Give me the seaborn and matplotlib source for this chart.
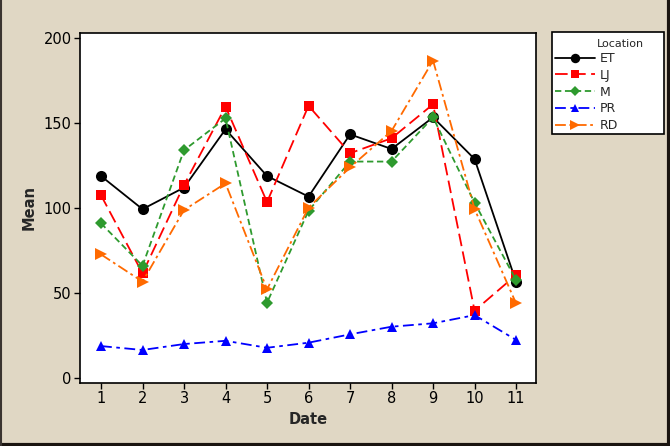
import pandas as pd
import numpy as np
import matplotlib.pyplot as plt
import seaborn as sns

sns.set_style('white')
plt.rcParams['font.family'] = ['DejaVu Sans']

dates = [1, 2, 3, 4, 5, 6, 7, 8, 9, 10, 11]
locations = ['ET', 'LJ', 'M', 'PR', 'RD']

et = [118.8, 99.3, 112.0, 146.3, 118.8, 106.7, 143.3, 134.7, 153.3, 128.8, 56.6]
lj = [107.5, 61.6, 113.5, 159.6, 103.5, 160.1, 132.2, 141.0, 161.0, 39.6, 60.6]
m = [91.0, 66.0, 134.0, 152.7, 44.3, 98.4, 127.3, 127.3, 153.3, 103.1, 57.6]
pr = [18.8, 16.5, 20.0, 21.9, 17.8, 20.8, 25.7, 30.2, 32.2, 37.0, 22.4]
rd = [72.7, 56.7, 98.8, 114.5, 52.2, 100.2, 123.9, 145.3, 186.7, 99.4, 43.9]

df = pd.DataFrame({'Date': dates * 5,
                   'Location': np.repeat(locations, len(dates)),
                   'Mean': et + lj + m + pr + rd})

palette = {'ET': 'black', 'LJ': '#FF0000', 'M': '#2E9A2E', 'PR': '#0000FF', 'RD': '#FF6A00'}
markers = {'ET': 'o', 'LJ': 's', 'M': 'D', 'PR': '^', 'RD': '>'}
dashes = {'ET': '', 'LJ': (7, 3), 'M': (3.5, 2), 'PR': (6, 2.5, 2, 2.5), 'RD': (6, 2, 1.5, 2)}
msizes = {'ET': 8, 'LJ': 7, 'M': 6.5, 'PR': 7.5, 'RD': 8}

fig = plt.figure(figsize=(6.7, 4.46), dpi=100)
fig.patch.set_facecolor('#E0D7C4')
ax = fig.add_axes([0.1194, 0.1413, 0.6806, 0.7847])

for loc in locations:
    sub = df[df['Location'] == loc]
    sns.lineplot(data=sub, x='Date', y='Mean', ax=ax, color=palette[loc],
                 marker=markers[loc], markersize=msizes[loc], markeredgewidth=0,
                 linewidth=1.3, label=loc)

for line, loc in zip(ax.get_lines(), locations):
    if dashes[loc]:
        line.set_dashes(dashes[loc])
    else:
        line.set_linestyle('-')

ax.set_xlim(0.494, 11.48)
ax.set_ylim(-2.9, 202.9)
ax.set_xticks(dates)
ax.set_yticks([0, 50, 100, 150, 200])
ax.tick_params(axis='both', direction='out', length=4, width=1, colors='black', labelsize=10.5, pad=2,
               bottom=True, left=True)
for s in ax.spines.values():
    s.set_color('black')
    s.set_linewidth(1.2)
ax.set_xlabel('Date', fontweight='bold', fontsize=10.5, labelpad=4)
ax.set_ylabel('Mean', fontweight='bold', fontsize=10.5, labelpad=5)

# legend: box drawn separately so it keeps the wide frame of the original
handles, labels = ax.get_legend_handles_labels()
for h, loc in zip(handles, labels):
    if dashes[loc]:
        h.set_dashes(dashes[loc])
    else:
        h.set_linestyle('-')
leg = ax.legend(handles, labels, loc='upper left',
                bbox_to_anchor=(555 / 670, 1 - 52 / 446), bbox_transform=fig.transFigure,
                frameon=False, fontsize=9, handlelength=3.2, labelspacing=0.3,
                borderpad=0, handletextpad=0.4, borderaxespad=0, markerscale=0.85)
fig.text(597 / 670, 1 - 44 / 446, 'Location', fontsize=8, ha='left', va='center')
fig.add_artist(plt.Rectangle((552 / 670, 1 - 134 / 446), 112 / 670, 102 / 446,
                             transform=fig.transFigure, facecolor='white',
                             edgecolor='black', linewidth=1.2, zorder=0))

# outer frame, darker on the right and bottom
fig.add_artist(plt.Line2D([0.999, 0.999], [0, 1], transform=fig.transFigure, color='#1A1410', linewidth=3))
fig.add_artist(plt.Line2D([0, 1], [0.002, 0.002], transform=fig.transFigure, color='#1A1410', linewidth=3))
fig.add_artist(plt.Line2D([0.001, 0.001], [0, 1], transform=fig.transFigure, color='#3A3430', linewidth=1.5))

fig.savefig('out.png', dpi=100, facecolor=fig.get_facecolor())
